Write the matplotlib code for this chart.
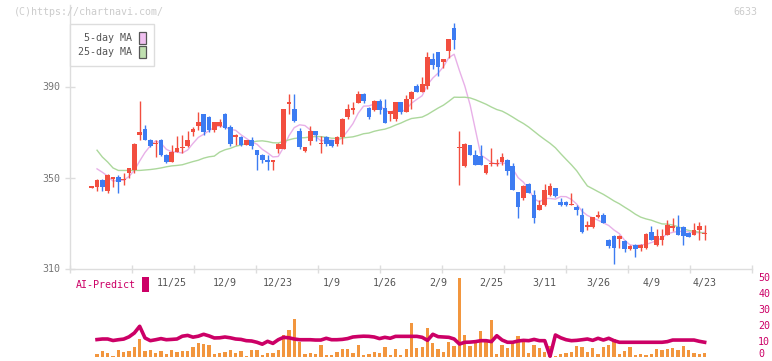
import numpy as np
import pandas as pd
import matplotlib
matplotlib.use("Agg")
import matplotlib.pyplot as plt
from matplotlib.patches import Patch, Rectangle

# ---------------- data ----------------
opens = [345.8, 345.7, 349.1, 344.0, 349.8, 350.1, 349.0, 351.8, 353.5, 368.5,
         371.1, 366.3, 364.8, 366.3, 360.1, 356.7, 361.3, 363.0, 363.8, 369.9,
         372.5, 378.1, 376.8, 370.8, 372.5, 378.1, 372.1, 367.7, 368.0, 364.5,
         366.3, 362.0, 360.1, 357.9, 357.1, 362.7, 362.7, 382.7, 379.9, 370.4,
         361.6, 366.0, 370.4, 364.8, 367.9, 366.4, 364.6, 367.9, 376.5, 379.6,
         382.8, 386.9, 380.6, 379.6, 383.8, 380.6, 378.0, 375.5, 383.0, 378.9,
         384.3, 390.1, 387.7, 390.1, 401.9, 405.1, 400.7, 405.5, 415.5, 363.0,
         355.0, 364.1, 360.1, 359.4, 351.8, 356.0, 356.0, 356.7, 357.9, 355.0,
         343.5, 340.8, 347.2, 342.1, 335.9, 337.8, 342.1, 345.2, 339.3, 339.3,
         338.0, 337.1, 333.4, 328.5, 328.2, 332.9, 333.4, 322.4, 324.5, 323.1,
         322.3, 318.4, 320.5, 318.8, 318.8, 326.0, 320.2, 322.4, 324.9, 328.2,
         328.3, 328.3, 325.7, 324.9, 326.8, 325.3]
highs = [346.2, 349.3, 349.3, 351.5, 350.3, 351.3, 352.1, 354.0, 365.0, 383.8,
         372.9, 367.0, 366.7, 367.0, 360.2, 364.1, 368.2, 368.9, 370.4, 372.1,
         379.0, 378.1, 377.0, 374.5, 375.9, 378.3, 372.9, 369.1, 368.2, 366.5,
         368.0, 362.2, 360.3, 360.0, 357.9, 365.0, 380.0, 386.9, 386.9, 371.8,
         363.4, 372.5, 370.6, 368.2, 368.1, 366.6, 368.1, 376.1, 382.1, 383.1,
         387.9, 387.1, 380.8, 384.0, 384.7, 384.7, 379.3, 383.2, 383.2, 386.2,
         387.9, 391.2, 394.1, 405.1, 404.8, 405.3, 402.1, 410.9, 417.7, 370.4,
         365.0, 364.3, 361.9, 364.1, 355.5, 363.1, 358.2, 360.9, 358.1, 356.5,
         343.7, 346.9, 347.4, 344.4, 340.3, 347.2, 347.7, 345.4, 341.1, 339.5,
         343.3, 338.1, 336.7, 330.8, 332.7, 335.2, 334.5, 323.0, 324.7, 324.7,
         322.5, 320.3, 320.7, 320.7, 325.5, 328.6, 327.5, 327.5, 331.1, 332.3,
         333.3, 328.5, 325.9, 330.1, 330.4, 329.3]
lows = [345.5, 344.0, 344.0, 343.0, 345.9, 343.3, 346.9, 349.6, 352.1, 366.7,
        366.5, 363.3, 358.9, 359.6, 356.5, 356.7, 361.0, 360.9, 363.6, 368.2,
        370.8, 368.9, 370.0, 370.0, 372.3, 371.5, 363.8, 364.5, 363.8, 364.3,
        362.7, 353.5, 356.5, 353.5, 353.5, 360.9, 362.5, 377.8, 374.5, 362.6,
        361.4, 364.1, 366.0, 360.9, 363.8, 363.6, 363.8, 364.9, 375.9, 378.1,
        382.6, 382.8, 375.5, 379.4, 377.7, 373.8, 374.7, 374.7, 377.7, 378.7,
        380.3, 387.5, 387.5, 389.1, 397.5, 394.5, 398.2, 402.6, 406.3, 346.9,
        354.8, 359.9, 355.5, 355.5, 351.6, 355.0, 355.0, 355.7, 350.9, 344.5,
        332.0, 340.3, 343.1, 330.1, 335.7, 337.6, 342.0, 341.6, 337.6, 337.6,
        337.8, 333.7, 325.8, 327.1, 328.0, 332.0, 329.9, 318.8, 311.8, 319.1,
        317.3, 318.2, 315.1, 317.6, 318.6, 322.5, 320.0, 320.5, 324.7, 326.4,
        324.7, 320.2, 323.7, 324.7, 322.7, 322.7]
closes = [346.0, 349.1, 345.7, 351.3, 349.9, 347.9, 349.2, 354.0, 364.9, 370.2,
          366.7, 363.8, 365.0, 359.8, 356.7, 361.1, 363.1, 363.2, 366.4, 371.1,
          374.3, 370.0, 370.8, 374.3, 374.3, 371.7, 364.6, 368.9, 364.5, 366.3,
          363.8, 359.8, 357.6, 356.7, 357.3, 364.8, 379.9, 382.9, 374.7, 363.5,
          363.2, 370.4, 368.5, 365.0, 364.6, 363.8, 367.9, 375.9, 379.9, 380.6,
          386.9, 383.5, 376.5, 383.8, 379.6, 374.0, 379.1, 383.0, 378.7, 384.7,
          387.7, 387.7, 390.9, 402.9, 399.4, 398.5, 401.9, 410.7, 410.4, 363.2,
          364.9, 360.1, 355.7, 355.7, 355.3, 356.2, 356.2, 359.1, 352.8, 344.7,
          336.9, 346.2, 343.3, 332.0, 338.1, 344.3, 346.2, 341.8, 337.8, 337.8,
          338.2, 335.9, 326.0, 328.7, 332.5, 333.1, 330.1, 320.1, 318.8, 324.5,
          318.4, 320.1, 318.4, 320.5, 325.3, 322.7, 324.5, 324.5, 329.3, 328.4,
          324.9, 324.2, 323.9, 327.1, 328.6, 325.5]

ma5_head = [np.nan, 353.8, 352.3, 350.6]
ma25_head = [np.nan, 362.0, 359.0, 356.8, 354.2, 353.1, 353.1, 353.1, 353.1, 353.1,
             353.3, 353.5, 353.8, 354.2, 354.7, 355.1, 355.3, 355.6, 356.3, 357.0,
             357.6, 358.5, 359.1, 359.4]

volume = [np.nan, 1.9, 3.75, 2.7, 0.6, 4.4, 3.3, 3.75, 6.25, 11.25,
          3.75, 4.4, 2.7, 3.75, 1.9, 4.4, 3.3, 3.75, 3.75, 6.25,
          8.75, 7.9, 7.5, 1.9, 2.3, 3.1, 4.4, 2.7, 3.75, 0.6,
          4.4, 4.2, 1.0, 2.3, 2.3, 4.4, 13.75, 16.9, 23.75, 9.6,
          1.9, 2.3, 1.9, 7.5, 1.0, 1.0, 3.1, 5.0, 5.0, 2.3,
          7.5, 1.0, 1.9, 3.3, 2.3, 6.0, 1.0, 5.0, 1.0, 5.0,
          21.25, 5.6, 6.25, 18.1, 8.75, 5.0, 3.1, 9.4, 6.7, 49.4,
          13.75, 6.7, 9.2, 16.5, 9.2, 23.1, 1.9, 7.5, 5.4, 9.6,
          13.1, 9.2, 2.5, 7.5, 5.4, 2.9, 6.7, 0.6, 1.9, 2.7,
          3.1, 6.7, 6.0, 3.1, 5.4, 1.9, 6.0, 7.5, 11.25, 1.9,
          3.9, 6.0, 1.5, 1.9, 1.0, 1.9, 5.0, 4.6, 5.0, 5.4,
          4.6, 6.7, 4.4, 2.7, 1.9, 2.3]

ai_predict = [np.nan, 10.9, 11.25, 11.25, 10.3, 10.8, 11.2, 12.6, 15.0, 19.2,
              11.9, 10.2, 10.8, 11.5, 10.8, 11.0, 11.25, 13.0, 13.5, 12.4,
              13.0, 14.2, 13.2, 11.9, 12.0, 12.5, 12.0, 11.25, 11.0, 10.2,
              10.0, 9.2, 8.0, 9.8, 8.5, 10.8, 12.3, 12.0, 11.25, 10.8,
              10.8, 10.8, 10.6, 10.6, 11.7, 10.8, 10.8, 11.0, 11.5, 12.5,
              12.8, 13.0, 12.9, 12.5, 11.5, 12.3, 11.7, 12.9, 12.9, 12.9,
              12.9, 12.9, 12.3, 10.4, 14.2, 12.7, 12.5, 12.3, 11.25, 8.1,
              9.2, 9.3, 9.6, 10.2, 10.2, 9.6, 13.3, 10.6, 9.2, 9.2,
              10.0, 10.4, 10.2, 11.0, 10.2, 10.2, 0.5, 13.75, 12.0, 10.8,
              10.2, 10.4, 10.8, 11.25, 10.4, 11.7, 10.6, 11.7, 10.2, 9.2,
              9.2, 9.2, 9.2, 9.2, 9.2, 9.2, 9.2, 9.2, 9.6, 10.6,
              10.6, 10.6, 10.6, 10.6, 9.8, 9.2]

date_labels = ["11/25", "12/9", "12/23", "1/9", "1/26", "2/9",
               "2/25", "3/11", "3/26", "4/9", "4/23"]
date_label_idx = [15, 25, 35, 45, 55, 65, 75, 85, 95, 105, 115]
price_ticks = [310, 350, 390]
ai_ticks = [0, 10, 20, 30, 40, 50]

# ---------------- derived ----------------
n = len(closes)
idx = np.arange(n)
cs = pd.Series(closes)
ma5 = cs.rolling(5).mean().to_numpy()
ma5[:len(ma5_head)] = ma5_head
ma25 = cs.rolling(25).mean().to_numpy()
ma25[:len(ma25_head)] = ma25_head

# ---------------- style ----------------
W, H = 772, 361
FONT = "DejaVu Sans Mono"
FS = 7.2
RED = "#f24e3f"
BLUE = "#3d7cf2"
PINK = "#e8b0e8"
GREEN = "#acd89c"
MAG = "#cc0066"
ORANGE = "#f2963e"
GRAY_LINE = "#dddddd"

plt.rcParams["font.family"] = [FONT]

fig = plt.figure(figsize=(W / 100, H / 100), dpi=100)

# pixel geometry
ax_left, ax_right = 70, 752
main_top, main_bottom = 5, 268.5
c0_px, step_px = 91.7, 5.33
px_per_unit = 91 / 40.0

def fx(px):
    return px / W

def fy(py):
    return 1 - py / H

ax = fig.add_axes([fx(ax_left), fy(main_bottom), (ax_right - ax_left) / W,
                   (main_bottom - main_top) / H])
xlim = ((ax_left - c0_px) / step_px, (ax_right - c0_px) / step_px)
ax.set_xlim(*xlim)
ax.set_ylim(310, 310 + (main_bottom - main_top) / px_per_unit)

# candles
min_body = 0.7
for i in range(n):
    o, h, l, c = opens[i], highs[i], lows[i], closes[i]
    col = RED if c >= o else BLUE
    ax.vlines(i, l, h, color=col, lw=1.0, zorder=3)
    body = abs(c - o)
    bottom = min(o, c)
    if body < min_body:
        bottom = (o + c) / 2 - min_body / 2
        body = min_body
    ax.bar(i, body, bottom=bottom, width=0.88, color=col, lw=0, zorder=4)

ax.plot(idx, ma5, color=PINK, lw=1.0, zorder=2)
ax.plot(idx, ma25, color=GREEN, lw=1.0, zorder=2)

for s in ["top", "right"]:
    ax.spines[s].set_visible(False)
for s in ["left", "bottom"]:
    ax.spines[s].set_color(GRAY_LINE)
    ax.spines[s].set_linewidth(1.0)

ax.set_yticks(price_ticks)
ax.set_yticklabels([str(t) for t in price_ticks])
ax.tick_params(axis="y", direction="inout", length=7, width=1, color=GRAY_LINE,
               labelcolor="#777777", labelsize=FS, pad=3.5)

ax.set_xticks(np.linspace(xlim[0], xlim[1], 12))
ax.set_xticklabels([])
ax.tick_params(axis="x", which="major", direction="inout", length=6, width=1,
               color=GRAY_LINE)
ax.set_xticks(date_label_idx, minor=True)
ax.set_xticklabels(date_labels, minor=True)
ax.tick_params(axis="x", which="minor", length=0, pad=6.5, labelsize=FS,
               labelcolor="#555555")

leg = ax.legend(handles=[Patch(facecolor="#f0c0f0", edgecolor="#555555", lw=0.9),
                         Patch(facecolor="#c0e0b0", edgecolor="#555555", lw=0.9)],
                labels=["5-day MA", "25-day MA"],
                loc="upper left", bbox_to_anchor=(fx(ax_left), fy(24)),
                bbox_transform=fig.transFigure, borderaxespad=0,
                frameon=True, fancybox=False, edgecolor=GRAY_LINE, framealpha=1,
                markerfirst=False, handlelength=0.7, handleheight=1.5,
                handletextpad=0.65, labelspacing=0.15, borderpad=0.8,
                prop={"family": FONT, "size": FS}, labelcolor="#555555")
leg.get_frame().set_linewidth(1.0)

# ---------------- lower panel ----------------
low_top, low_bottom = 274, 358
ax2 = fig.add_axes([fx(ax_left), fy(low_bottom), (ax_right - ax_left) / W,
                    (low_bottom - low_top) / H])
ax2.set_xlim(*xlim)
zero_px = 357
unit_px = 1.6
ax2.set_ylim(-(low_bottom - zero_px) / unit_px,
             (zero_px - low_top) / unit_px)
ax2.bar(idx, volume, width=0.62, color=ORANGE, lw=0, zorder=2)
ax2.plot(idx, ai_predict, color=MAG, lw=2.6, zorder=3, solid_joinstyle="round")
for s in ax2.spines.values():
    s.set_visible(False)
ax2.set_xticks([])
ax2.yaxis.tick_right()
ax2.set_yticks(ai_ticks)
ax2.set_yticklabels([str(t) for t in ai_ticks])
ax2.tick_params(axis="y", length=0, pad=4.5, labelcolor=MAG, labelsize=FS)
ax2.patch.set_alpha(0)
for lbl in ax2.get_yticklabels():
    if lbl.get_text() == "0":
        lbl.set_va("baseline")

# ---------------- texts ----------------
fig.text(fx(14), fy(12), "(C)https://chartnavi.com/", color="#cccccc",
         fontsize=FS, ha="left", va="center", family=FONT)
fig.text(fx(757), fy(12), "6633", color="#cccccc", fontsize=FS,
         ha="right", va="center", family=FONT)
fig.text(fx(76), fy(284.5), "AI-Predict", color=MAG, fontsize=FS,
         ha="left", va="center", family=FONT)
fig.patches.append(Rectangle((fx(142), fy(292)), 6.5 / W, 15 / H,
                             transform=fig.transFigure, facecolor=MAG,
                             edgecolor="none"))

fig.savefig("out.png", dpi=100)
